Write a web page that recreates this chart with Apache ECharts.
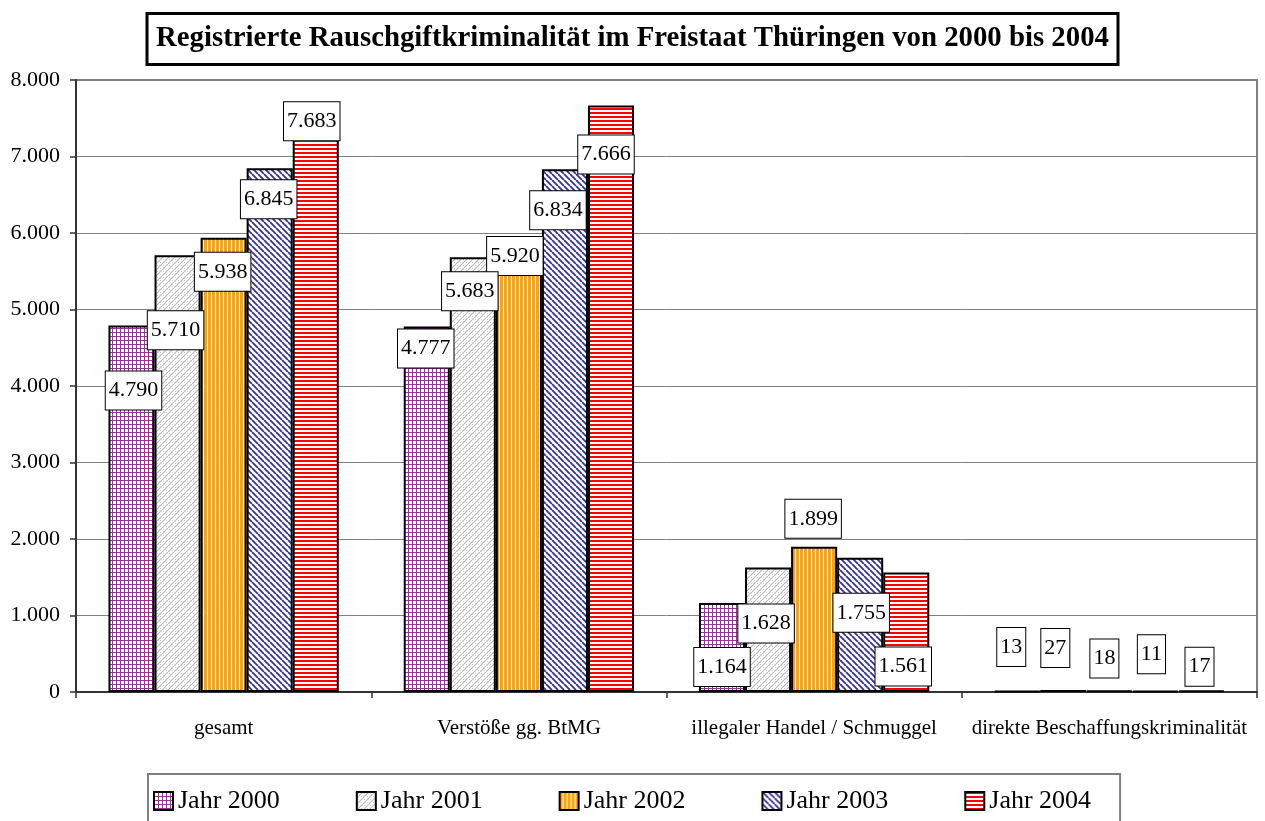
<!DOCTYPE html>
<html>
<head>
<meta charset="utf-8">
<script src="https://cdn.jsdelivr.net/npm/echarts@6/dist/echarts.min.js"></script>
<style>
  html, body { margin: 0; padding: 0; background: #fff; }
  #chart { width: 1265px; height: 821px; }
</style>
</head>
<body>
<div id="chart"></div>
<script>
  // Daten
  var categories = ['gesamt', 'Verstöße gg. BtMG', 'illegaler Handel / Schmuggel', 'direkte Beschaffungskriminalität'];
  var years = ['Jahr 2000', 'Jahr 2001', 'Jahr 2002', 'Jahr 2003', 'Jahr 2004'];
  var jahr2000 = [4790, 4777, 1164, 13];
  var jahr2001 = [5710, 5683, 1628, 27];
  var jahr2002 = [5938, 5920, 1899, 18];
  var jahr2003 = [6845, 6834, 1755, 11];
  var jahr2004 = [7683, 7666, 1561, 17];
  var yTicks = [0, 1000, 2000, 3000, 4000, 5000, 6000, 7000, 8000];

  // label shifts (px) as placed by hand in the original, per year / category
  var labelShift = [
    [[2, 65], [-1, 22], [0, 64], [-6, -44]],
    [[-2, 75], [-3, 34], [-2, 56], [-8, -42]],
    [[-1, 34], [-4, 17], [-1, -28], [-5, -32]],
    [[-1, 31], [-7, 41], [1, 55], [-4, -37]],
    [[-4, 17], [-5, 49], [-3, 94], [-2, -24]]
  ];

  function fmt(v) {
    return String(v).replace(/\B(?=(\d{3})+(?!\d))/g, '.');
  }

  function pat(w, h, draw) {
    var c = document.createElement('canvas');
    c.width = w; c.height = h;
    var ctx = c.getContext('2d');
    ctx.fillStyle = '#fff';
    ctx.fillRect(0, 0, w, h);
    draw(ctx);
    return { image: c, repeat: 'repeat' };
  }

  var fills = [
    pat(4, 4, function (ctx) {
      ctx.fillStyle = '#993399';
      ctx.fillRect(0, 0, 1, 4);
      ctx.fillRect(0, 0, 4, 1);
    }),
    pat(6, 6, function (ctx) {
      ctx.strokeStyle = '#b8b8b8';
      ctx.lineWidth = 1.2;
      ctx.beginPath();
      [-6, 0, 6].forEach(function (k) { ctx.moveTo(k, 6); ctx.lineTo(k + 6, 0); });
      ctx.stroke();
      ctx.fillStyle = '#c8c8c8';
      ctx.fillRect(1, 1, 1, 1);
      ctx.fillRect(4, 4, 1, 1);
    }),
    pat(4, 1, function (ctx) {
      ctx.fillStyle = '#ffa500';
      ctx.fillRect(0, 0, 3, 1);
    }),
    pat(6, 6, function (ctx) {
      ctx.strokeStyle = '#333399';
      ctx.lineWidth = 1.8;
      ctx.beginPath();
      [-6, 0, 6].forEach(function (k) { ctx.moveTo(k, 0); ctx.lineTo(k + 6, 6); });
      ctx.stroke();
    }),
    pat(1, 4, function (ctx) {
      ctx.fillStyle = '#ff0000';
      ctx.fillRect(0, 0, 1, 2);
    })
  ];

  var values = [jahr2000, jahr2001, jahr2002, jahr2003, jahr2004];
  var font = 'Liberation Serif, Times New Roman, serif';

  // bars
  var series = values.map(function (arr, si) {
    return {
      name: years[si],
      type: 'bar',
      xAxisIndex: 0,
      barGap: 0,
      barCategoryGap: '22%',
      z: 2,
      itemStyle: { color: fills[si], borderColor: '#000', borderWidth: 2 },
      data: arr,
      emphasis: { disabled: true }
    };
  });

  // same bars again on a hidden axis, invisible, only to carry the labels above all bars
  values.forEach(function (arr, si) {
    series.push({
      name: 'lbl' + si,
      type: 'bar',
      xAxisIndex: 1,
      barGap: 0,
      barCategoryGap: '22%',
      z: 20 - si,
      silent: true,
      itemStyle: { color: 'rgba(0,0,0,0)', borderWidth: 0 },
      data: arr.map(function (v, ci) {
        var s = labelShift[si][ci];
        return { value: v, label: { offset: [s[0], s[1] + 19] } };
      }),
      label: {
        show: true,
        position: 'top',
        distance: 0,
        formatter: function (p) { return fmt(p.value); },
        fontFamily: font,
        fontSize: 22,
        lineHeight: 24,
        color: '#000',
        backgroundColor: '#fff',
        borderColor: '#000',
        borderWidth: 1,
        padding: [7, 3, 7, 3]
      },
      emphasis: { disabled: true }
    });
  });

  var chart = echarts.init(document.getElementById('chart'), null, { renderer: 'canvas' });
  chart.setOption({
    animation: false,
    backgroundColor: '#fff',
    title: {
      text: 'Registrierte Rauschgiftkriminalität im Freistaat Thüringen von 2000 bis 2004',
      left: 'center',
      top: 13,
      padding: [11, 9, 11, 9],
      borderColor: '#000',
      borderWidth: 3,
      textStyle: { fontFamily: font, fontSize: 28.8, fontWeight: 'bold', color: '#000', lineHeight: 30 }
    },
    legend: {
      data: years,
      left: 148,
      top: 774,
      padding: [14, 29, 20, 5],
      itemGap: 76,
      itemWidth: 19,
      itemHeight: 18,
      icon: 'rect',
      borderColor: '#808080',
      borderWidth: 2,
      textStyle: { fontFamily: font, fontSize: 26, color: '#000' }
    },
    grid: {
      left: 76, right: 8, top: 80, bottom: 129,
      show: true, borderColor: '#808080', borderWidth: 2,
      containLabel: false
    },
    xAxis: [{
      type: 'category',
      data: categories,
      axisLine: { lineStyle: { color: '#333', width: 2 } },
      axisTick: { show: true, length: 6, interval: 0, lineStyle: { color: '#333', width: 1.5 } },
      axisLabel: { fontFamily: font, fontSize: 21, color: '#000', margin: 26, interval: 0 },
      splitLine: { show: false }
    }, {
      type: 'category',
      data: categories,
      position: 'bottom',
      show: false
    }],
    yAxis: {
      type: 'value',
      min: yTicks[0],
      max: yTicks[yTicks.length - 1],
      interval: yTicks[1] - yTicks[0],
      axisLine: { show: true, lineStyle: { color: '#333', width: 2 } },
      axisTick: { show: true, length: 6, lineStyle: { color: '#333', width: 1.5 } },
      axisLabel: { fontFamily: font, fontSize: 22, color: '#000', margin: 16, formatter: fmt },
      splitLine: { lineStyle: { color: '#808080', width: 1 } }
    },
    series: series
  });
</script>
</body>
</html>
